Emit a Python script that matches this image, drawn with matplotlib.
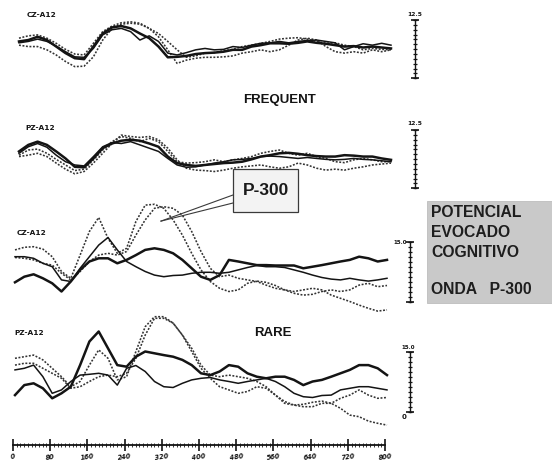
import matplotlib
matplotlib.use("Agg")
import matplotlib.pyplot as plt
from matplotlib.patches import Rectangle
from matplotlib.lines import Line2D
import numpy as np

# ---------------- data (time in ms, amplitude in microvolts) ----------------
t_ms = list(range(0, 801, 20))
time_ticks = [0, 80, 160, 240, 320, 400, 480, 560, 640, 720, 800]
time_labels = [str(v) for v in time_ticks]

# FREQUENT  CZ-A12
freq_cz_thick = [0.4, 0.7, 1.4, 0.7, -0.7, -2.1, -3.2, -3.4, -0.7, 2.1, 3.4, 3.7, 3.2, 2.1, 1.1, -0.7, -3.0,
                 -2.9, -2.7, -2.3, -2.1, -2.0, -1.8, -1.4, -1.4, -0.7, -0.4, 0.0, 0.0, -0.1, 0.1, 0.4, 0.1,
                 -0.1, -0.4, -0.7, -0.6, -0.9, -0.7, -0.9, -1.1]
freq_cz_thin = [0.1, 0.4, 0.9, 0.4, -0.6, -1.8, -2.9, -3.0, -1.1, 1.8, 2.9, 3.2, 2.5, 0.7, 1.6, 0.4, -2.1,
                -2.5, -2.0, -1.4, -1.1, -1.4, -1.3, -0.7, -0.9, -0.4, 0.0, 0.1, 0.4, 0.1, 0.4, 0.6, 0.7,
                0.4, 0.1, -1.4, -0.7, -0.1, -0.4, 0.0, -0.4]
freq_cz_dot_a = [-0.4, -0.7, -0.7, -1.4, -2.5, -3.9, -5.0, -4.9, -2.9, 0.7, 3.2, 4.1, 4.3, 4.1, 3.2, 1.4, -1.4,
                 -4.3, -3.6, -3.2, -3.0, -3.0, -2.9, -2.7, -2.1, -1.8, -1.4, -1.8, -1.4, -0.4, 0.7, 1.1, 0.7,
                 -0.7, -1.8, -2.1, -1.8, -2.1, -1.4, -1.8, -1.4]
freq_cz_dot_b = [1.1, 1.6, 1.8, 1.1, 0.0, -1.3, -2.3, -2.5, 0.0, 2.5, 3.7, 4.4, 4.6, 4.3, 3.2, 2.1, 0.4,
                 -1.4, -3.0, -2.7, -2.1, -2.0, -1.6, -1.3, -0.7, -0.4, 0.0, 0.4, 0.9, 1.1, 1.2, 0.9, 0.4,
                 0.0, 0.1, -0.4, -0.7, -1.4, -1.1, -1.3, -1.4]

# FREQUENT  PZ-A12
freq_pz_thick = [0.4, 1.8, 2.5, 1.8, 0.4, -1.1, -2.9, -3.0, -1.1, 1.1, 2.1, 2.7, 2.9, 2.7, 2.1, 1.4, -0.7,
                 -2.1, -2.5, -2.7, -2.5, -2.3, -2.1, -2.0, -1.8, -1.3, -0.7, -0.4, 0.0, 0.1, -0.1, -0.4, -0.6,
                 -0.7, -0.7, -0.4, -0.5, -0.7, -0.7, -1.1, -1.4]
freq_pz_thin = [0.0, 1.4, 2.1, 1.3, -0.4, -1.8, -2.5, -2.7, -0.7, 1.4, 2.3, 2.1, 2.5, 1.8, 1.1, 0.4, -1.1,
                -2.5, -3.0, -2.9, -2.5, -2.1, -1.8, -1.4, -1.3, -1.1, -0.7, -0.6, -0.7, -0.9, -1.1, -0.9, -1.1,
                -1.3, -1.4, -1.3, -1.1, -1.3, -1.4, -1.6, -1.8]
freq_pz_dot_a = [-0.7, -0.4, 0.0, -0.7, -2.1, -3.4, -4.4, -3.9, -2.1, 0.0, 2.1, 3.9, 3.6, 3.4, 3.6, 2.9, 1.1,
                 -1.4, -3.2, -3.6, -3.7, -3.9, -3.6, -3.2, -2.9, -2.7, -2.5, -2.9, -3.2, -2.9, -2.1, -2.5, -3.2,
                 -3.6, -3.4, -3.6, -3.2, -2.9, -2.5, -2.3, -2.1]
freq_pz_dot_b = [-0.4, 0.7, 0.9, 0.0, -1.3, -2.5, -3.7, -3.4, -1.4, 0.7, 2.5, 3.6, 3.2, 2.5, 3.2, 2.5, 0.4,
                 -1.8, -2.1, -2.0, -1.8, -1.4, -1.8, -1.4, -1.1, -0.7, 0.0, 0.4, 0.7, 0.0, -0.4, 0.0, -0.7,
                 -1.1, -1.8, -2.0, -1.4, -1.1, -1.4, -1.8, -1.8]

# RARE  CZ-A12
rare_cz_thick = [-3.5, -2.1, -1.5, -2.5, -3.75, -5.8, -3.3, -0.4, 1.7, 2.5, 2.5, 1.25, 2.1, 3.3, 4.6, 5.0, 4.6,
                 3.75, 2.1, 0.0, -2.1, -2.9, -1.7, 2.1, 1.7, 1.25, 0.8, 0.8, 0.7, 0.7, 0.7, 0.0, 0.4,
                 0.8, 1.25, 1.7, 2.1, 2.9, 2.5, 1.7, 2.1]
rare_cz_thin = [2.9, 2.9, 2.5, 1.25, 0.4, -2.9, -3.3, 0.0, 2.9, 5.8, 7.7, 4.6, 1.7, 0.4, -0.8, -1.7, -2.1,
                -1.8, -1.7, -1.25, -1.0, -1.0, -1.25, -1.0, -0.4, 0.2, 0.7, 0.4, 0.4, 0.2, -0.4, -1.0, -1.7,
                -2.3, -2.7, -2.9, -2.5, -2.9, -3.2, -2.9, -2.5]
rare_cz_dot_a = [4.6, 5.25, 5.4, 4.8, 2.9, -0.8, -2.5, 3.3, 9.2, 12.7, 7.5, 3.75, 5.0, 11.7, 15.8, 16.0, 15.0,
                 12.1, 8.3, 3.75, -0.4, -3.3, -5.0, -5.8, -5.4, -3.75, -3.2, -3.5, -4.3, -5.4, -6.25, -6.7, -6.5,
                 -5.8, -5.4, -5.8, -5.4, -4.2, -3.75, -4.6, -4.3]
rare_cz_dot_b = [2.7, 2.5, 2.1, 1.25, 0.8, -1.25, -2.9, -0.8, 1.7, 3.3, 3.75, 3.3, 4.2, 8.3, 12.1, 15.0, 15.4,
                 15.0, 13.3, 9.2, 4.2, 0.0, -2.1, -1.7, -2.5, -2.9, -3.3, -4.2, -5.0, -5.4, -5.8, -5.4, -5.0,
                 -5.4, -6.7, -7.5, -8.3, -9.2, -10.0, -10.7, -10.4]

# RARE  PZ-A12
rare_pz_thick = [-1.7, 0.8, 1.25, 0.0, -2.5, -1.25, 0.4, 5.8, 11.7, 14.2, 10.0, 5.8, 5.4, 7.9, 9.2, 8.75, 8.3,
                 7.9, 7.1, 5.8, 3.75, 3.3, 4.2, 5.8, 5.4, 3.75, 2.9, 2.5, 2.9, 2.9, 2.1, 0.8, 1.7,
                 2.1, 2.9, 3.75, 4.6, 5.8, 5.8, 5.0, 3.3]
rare_pz_thin = [4.6, 5.0, 5.8, 2.9, -1.25, -0.4, 1.7, 3.3, 3.5, 3.75, 3.3, 0.8, 5.0, 5.7, 4.2, 1.7, 0.4,
                0.2, 1.25, 2.1, 2.5, 2.7, 2.1, 1.7, 1.25, 1.7, 2.1, 2.5, 1.7, 0.4, -1.25, -2.1, -2.3,
                -1.8, -1.7, -0.4, 0.0, 0.4, 0.4, 0.0, -0.4]
rare_pz_dot_a = [7.5, 7.9, 8.3, 7.1, 5.0, 2.9, 0.4, 1.7, 5.8, 9.6, 7.5, 2.1, 2.9, 9.2, 15.4, 17.9, 17.9,
                 16.3, 13.3, 9.2, 5.0, 2.5, 0.4, -0.4, -1.25, -0.8, 0.4, 0.0, -1.7, -3.3, -4.2, -4.6, -4.6,
                 -3.75, -3.75, -2.5, -1.7, -0.4, -1.7, -2.5, -2.3]
rare_pz_dot_b = [5.8, 6.25, 6.25, 5.0, 3.75, 2.5, 0.0, 0.4, 1.7, 2.9, 3.3, 2.9, 3.75, 7.5, 13.3, 17.5, 17.5,
                 16.3, 13.3, 10.0, 5.8, 3.3, 2.9, 3.3, 2.9, 2.5, 1.7, 0.4, -1.7, -3.75, -4.2, -4.0, -3.5,
                 -3.2, -3.75, -5.0, -6.7, -7.1, -8.2, -8.75, -9.2]

scale_freq_uv = 12.5
scale_rare_uv = 15.0
panel_labels = ["CZ-A12", "PZ-A12", "CZ-A12", "PZ-A12"]
box_lines = ["POTENCIAL", "EVOCADO", "COGNITIVO", "", "ONDA   P-300"]

# ---------------- figure ----------------
W, H = 552, 465
fig = plt.figure(figsize=(W / 100, H / 100), dpi=100)
fig.patch.set_facecolor("white")
INK = "#141414"


def fx(x):
    return x / W


def fy(y):
    return 1 - y / H


def panel_axes(left_px, zero_px, ppu, half):
    ax = fig.add_axes([fx(left_px), fy(zero_px + half * ppu), 372 / W, 2 * half * ppu / H])
    ax.set_xlim(0, 800)
    ax.set_ylim(-half, half)
    ax.axis("off")
    return ax


def draw_traces(ax, thick, thin, dot_a, dot_b):
    ax.plot(t_ms, dot_a, color="#333333", lw=1.15, ls=(0, (1.2, 1.0)), clip_on=False)
    ax.plot(t_ms, dot_b, color="#333333", lw=1.15, ls=(0, (1.2, 1.0)), clip_on=False)
    ax.plot(t_ms, thin, color=INK, lw=1.1, clip_on=False)
    ax.plot(t_ms, thick, color=INK, lw=1.8, clip_on=False)


def scale_bar(ax, t_pos, lo, size):
    hi = lo + size
    ax.plot([t_pos, t_pos], [lo, hi], color=INK, lw=1.0, clip_on=False)
    ticks = np.arange(lo, hi + 1e-6, size / 12)
    ax.plot([t_pos] * len(ticks), ticks, ls="none", marker="_", ms=3.0, mew=0.9,
            color=INK, clip_on=False)
    ax.plot([t_pos, t_pos], [lo, hi], ls="none", marker="_", ms=6, mew=1.2,
            color=INK, clip_on=False)
    return hi


ax_fcz = panel_axes(19, 43.3, 4.667, 9)
ax_fpz = panel_axes(19, 153.3, 4.667, 9)
ax_rcz = panel_axes(15, 268.3, 4.0, 20)
ax_rpz = panel_axes(15, 388.3, 4.0, 19)

draw_traces(ax_fcz, freq_cz_thick, freq_cz_thin, freq_cz_dot_a, freq_cz_dot_b)
draw_traces(ax_fpz, freq_pz_thick, freq_pz_thin, freq_pz_dot_a, freq_pz_dot_b)
draw_traces(ax_rcz, rare_cz_thick, rare_cz_thin, rare_cz_dot_a, rare_cz_dot_b)
draw_traces(ax_rpz, rare_pz_thick, rare_pz_thin, rare_pz_dot_a, rare_pz_dot_b)

# scale bars
hi = scale_bar(ax_fcz, 851, -7.5, scale_freq_uv)
ax_fcz.text(851, hi + 0.6, f"{scale_freq_uv:.1f}", ha="center", va="bottom", fontsize=4.3,
            weight="bold", color=INK)
hi = scale_bar(ax_fpz, 851, -7.5, scale_freq_uv)
ax_fpz.text(851, hi + 0.9, f"{scale_freq_uv:.1f}", ha="center", va="bottom", fontsize=4.3,
            weight="bold", color=INK)
hi = scale_bar(ax_rcz, 850, -8.5, scale_rare_uv)
ax_rcz.text(842, hi, f"{scale_rare_uv:.1f}", ha="right", va="center", fontsize=4.0,
            weight="bold", color=INK)
hi = scale_bar(ax_rpz, 850, -6.0, scale_rare_uv)
ax_rpz.text(846, hi + 0.5, f"{scale_rare_uv:.1f}", ha="center", va="bottom", fontsize=4.0,
            weight="bold", color=INK)
ax_rpz.text(842, -6.0 - 1.2, "0", ha="right", va="center", fontsize=5, weight="bold", color=INK)

# panel labels
lab_kw = dict(fontsize=5.3, weight="bold", color=INK, family="DejaVu Sans", va="center")
fig.text(fx(27), fy(15), panel_labels[0], **lab_kw)
fig.text(fx(25), fy(128), panel_labels[1], **lab_kw)
fig.text(fx(17), fy(233), panel_labels[2], **lab_kw)
fig.text(fx(14), fy(333), panel_labels[3], **lab_kw)

big_kw = dict(fontsize=9.5, weight="bold", color=INK, family="Liberation Sans", ha="center", va="center")
fig.text(fx(280), fy(100), "FREQUENT", **big_kw)
fig.text(fx(273), fy(333), "RARE", **big_kw)

# time axis
ax_t = fig.add_axes([fx(13), fy(445), 372 / W, 12 / H])
ax_t.set_xlim(0, 800)
ax_t.set_ylim(0, 1)
for s in ["top", "left", "right"]:
    ax_t.spines[s].set_visible(False)
ax_t.spines["bottom"].set_linewidth(1.3)
ax_t.spines["bottom"].set_color(INK)
ax_t.patch.set_alpha(0)
ax_t.set_yticks([])
ax_t.set_xticks(time_ticks)
ax_t.set_xticklabels(time_labels, fontsize=4.8, weight="bold", style="italic", color=INK)
ax_t.set_xticks(np.arange(0, 801, 8), minor=True)
ax_t.tick_params(axis="x", which="major", direction="inout", length=8, width=1.2, color=INK, pad=2)
ax_t.tick_params(axis="x", which="minor", direction="inout", length=2.2, width=0.6, color=INK)
for lbl in ax_t.get_xticklabels():
    lbl.set_rotation(8)

# P-300 callout box
fig.patches.append(Rectangle((fx(233), fy(212)), 65 / W, 43 / H, transform=fig.transFigure,
                             facecolor="#f3f3f3", edgecolor="#3a3a3a", lw=0.9))
fig.text(fx(265.5), fy(190.5), "P-300", fontsize=12.5, weight="bold", family="Liberation Sans",
         color="#1a1a1a", ha="center", va="center")
tip_disp = ax_rcz.transData.transform((314, 11.8))
tip = fig.transFigure.inverted().transform(tip_disp)
for yy in (195, 203):
    fig.lines.append(Line2D([fx(233), tip[0]], [fy(yy), tip[1]], transform=fig.transFigure,
                            color="#3a3a3a", lw=0.8))

# grey info box
fig.patches.append(Rectangle((fx(427), fy(303)), 125 / W, 102 / H, transform=fig.transFigure,
                             facecolor="#c9c9c9", edgecolor="#bdbdbd", lw=0.6))
line_y = [212, 232, 252, 271, 290]
for txt, yy in zip(box_lines, line_y):
    if txt:
        fig.text(fx(431), fy(yy), txt, fontsize=11.3, weight="bold", family="Liberation Sans",
                 color="#1e1e1e", ha="left", va="center")

fig.savefig("out.png", dpi=100)
